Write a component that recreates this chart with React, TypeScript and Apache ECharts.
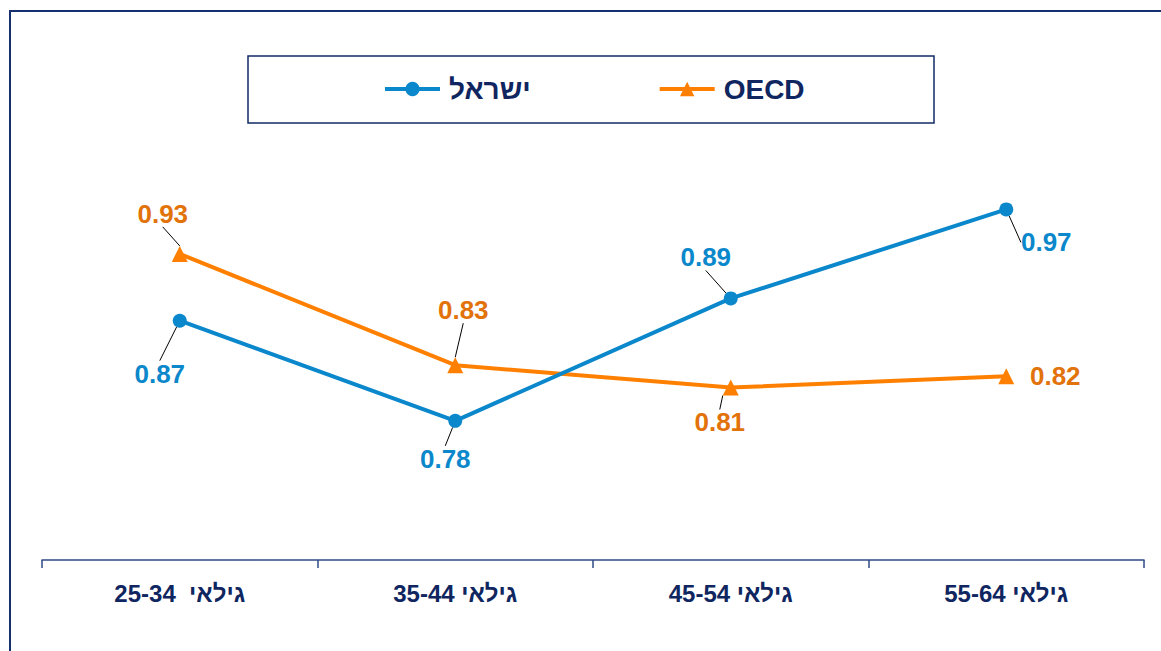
import React, { useEffect, useRef } from "react";
import * as echarts from "echarts";

const categories = ["25-34  גילאי", "35-44 גילאי", "45-54 גילאי", "55-64 גילאי"];
const israelName = "ישראל";
const oecdName = "OECD";
const israelValues = [0.87, 0.78, 0.89, 0.97];
const oecdValues = [0.93, 0.83, 0.81, 0.82];

// label offsets (dx, dy) relative to the point, per data index
const israelLabelOffsets = [[-20, 53], [-10, 38], [-25, -41], [40, 33]];
const oecdLabelOffsets = [[-17, -40], [8, -55], [-11, 35], [49, 0]];

const NAVY = "#0F2660";
const BLUE = "#0B87CB";
const BLUE_LABEL = "#0B87CB";
const ORANGE = "#FF8000";
const ORANGE_LABEL = "#E2720A";

export default function App() {
  const ref = useRef<HTMLDivElement>(null);
  useEffect(() => {
    const chart = echarts.init(ref.current!, null, { renderer: "svg" });
    const labelBase = {
      show: true,
      position: "inside",
      fontFamily: "Liberation Sans, Arial, sans-serif",
      fontWeight: "bold",
      fontSize: 26,
      padding: [2, 4],
      formatter: (p: any) => p.value.toFixed(2),
    };
    chart.setOption({
      animation: false,
      backgroundColor: "#ffffff",
      graphic: [
        {
          type: "rect",
          shape: { x: 10, y: 11, width: 1200, height: 700 },
          style: { fill: "none", stroke: "#15306E", lineWidth: 2 },
          silent: true,
        },
        {
          type: "rect",
          shape: { x: 248, y: 56, width: 686, height: 67 },
          style: { fill: "none", stroke: "#122B66", lineWidth: 1.5 },
          silent: true,
        },
      ],
      legend: {
        left: 383,
        top: 75,
        padding: 0,
        itemWidth: 55,
        itemHeight: 18,
        itemGap: 127,
        lineStyle: { width: 4 },
        textStyle: {
          fontFamily: "Liberation Sans, Arial, sans-serif",
          fontWeight: "bold",
          fontSize: 28,
          color: NAVY,
          padding: [0, 0, 0, 4],
        },
        data: [israelName, oecdName],
      },
      grid: { left: 42, right: 17, top: 176, bottom: 91 },
      xAxis: {
        type: "category",
        data: categories,
        boundaryGap: true,
        axisLine: { lineStyle: { color: "#2F4A85", width: 1.5 } },
        axisTick: { show: true, length: 8, lineStyle: { color: "#2F4A85", width: 1.5 } },
        axisLabel: {
          margin: 21,
          color: NAVY,
          fontFamily: "Liberation Sans, Arial, sans-serif",
          fontWeight: "bold",
          fontSize: 24,
        },
      },
      yAxis: {
        type: "value",
        min: 0.655,
        max: 1.0,
        show: false,
        splitLine: { show: false },
      },
      series: [
        {
          name: israelName,
          type: "line",
          data: israelValues,
          symbol: "circle",
          symbolSize: 14,
          lineStyle: { color: BLUE, width: 4 },
          itemStyle: { color: BLUE },
          label: { ...labelBase, color: BLUE_LABEL },
          labelLine: { show: true, lineStyle: { color: "#000", width: 1 } },
          labelLayout: (p: any) => ({ dx: israelLabelOffsets[p.dataIndex][0], dy: israelLabelOffsets[p.dataIndex][1] }),
          z: 3,
        },
        {
          name: oecdName,
          type: "line",
          data: oecdValues.map((v, i) => (i === 3 ? { value: v, labelLine: { show: false } } : v)),
          symbol: "triangle",
          symbolSize: 16,
          lineStyle: { color: ORANGE, width: 4 },
          itemStyle: { color: ORANGE },
          label: { ...labelBase, color: ORANGE_LABEL },
          labelLine: { show: true, lineStyle: { color: "#000", width: 1 } },
          labelLayout: (p: any) => ({ dx: oecdLabelOffsets[p.dataIndex][0], dy: oecdLabelOffsets[p.dataIndex][1] }),
          z: 2,
        },
      ],
    });
    return () => chart.dispose();
  }, []);
  return (
    <div
      ref={ref}
      style={{ position: "fixed", left: 0, top: 0, width: 1161, height: 651, background: "#fff" }}
    />
  );
}
